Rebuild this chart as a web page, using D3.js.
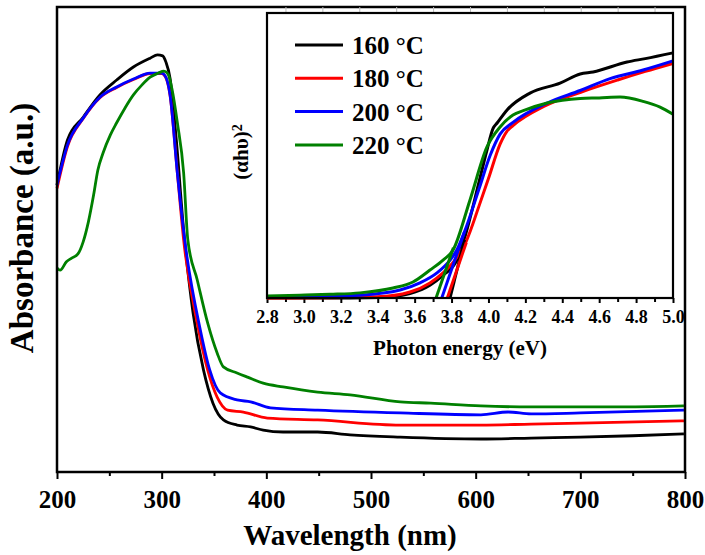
<!DOCTYPE html>
<html>
<head>
<meta charset="utf-8">
<script src="https://cdn.jsdelivr.net/npm/d3@7"></script>
<style>
  body { margin: 0; background: #fff; }
  text { font-family: "Liberation Serif", "Times New Roman", serif; font-weight: bold; fill: #000; }
</style>
</head>
<body>
<div id="chart"></div>
<script>
// main spectra: [wavelength nm, absorbance a.u.]
var abs160 = [[200,0.617],[210,0.714],[225,0.763],[241,0.811],[257,0.843],[273,0.871],[289,0.890],[296,0.897],[301,0.895],[304,0.882],[308,0.847],[314,0.714],[321,0.520],[330,0.342],[340,0.219],[349,0.148],[359,0.112],[372,0.101],[385,0.097],[397,0.090],[416,0.086],[449,0.086],[480,0.080],[528,0.075],[605,0.071],[653,0.073],[700,0.075],[750,0.078],[799,0.082]];
var abs180 = [[200,0.610],[210,0.700],[225,0.760],[241,0.805],[257,0.827],[273,0.844],[289,0.857],[300,0.857],[304,0.848],[308,0.810],[315,0.643],[321,0.499],[334,0.320],[344,0.219],[353,0.161],[363,0.133],[378,0.129],[401,0.116],[449,0.112],[528,0.101],[605,0.101],[653,0.103],[700,0.105],[799,0.110]];
var abs200 = [[200,0.617],[210,0.703],[225,0.761],[241,0.806],[257,0.828],[273,0.845],[289,0.858],[300,0.858],[304,0.849],[308,0.811],[315,0.643],[322,0.499],[337,0.305],[346,0.219],[356,0.170],[372,0.155],[385,0.151],[404,0.138],[449,0.133],[528,0.127],[605,0.123],[631,0.129],[653,0.125],[700,0.127],[799,0.133]];
var abs220 = [[200,0.439],[203,0.434],[209,0.452],[214,0.460],[220,0.469],[225,0.495],[230,0.538],[235,0.596],[239,0.649],[244,0.686],[251,0.725],[257,0.751],[265,0.783],[273,0.811],[281,0.832],[289,0.849],[297,0.858],[302,0.862],[306,0.856],[310,0.822],[315,0.751],[321,0.643],[325,0.499],[334,0.413],[344,0.320],[353,0.256],[359,0.226],[372,0.213],[382,0.204],[397,0.191],[416,0.183],[449,0.172],[480,0.166],[528,0.151],[557,0.148],[605,0.142],[653,0.140],[700,0.140],[748,0.140],[799,0.142]];

// inset Tauc plot: [photon energy eV, (ahv)^2]
var tauc160 = [[2.8,0.000],[3.1,0.000],[3.40,0.002],[3.575,0.016],[3.683,0.045],[3.754,0.080],[3.83,0.135],[3.87,0.210],[3.95,0.410],[3.992,0.519],[4.025,0.595],[4.047,0.614],[4.101,0.660],[4.225,0.719],[4.388,0.754],[4.497,0.786],[4.567,0.793],[4.751,0.828],[4.85,0.840],[5.0,0.860]];
var tauc180 = [[2.8,0.000],[3.1,0.001],[3.396,0.004],[3.575,0.021],[3.683,0.053],[3.754,0.088],[3.83,0.144],[3.88,0.200],[3.95,0.325],[4.0,0.419],[4.063,0.540],[4.10,0.585],[4.133,0.605],[4.30,0.672],[4.50,0.722],[4.70,0.765],[4.85,0.795],[5.0,0.823]];
var tauc200 = [[2.8,0.004],[3.1,0.006],[3.304,0.010],[3.521,0.028],[3.629,0.053],[3.721,0.088],[3.792,0.133],[3.83,0.170],[3.87,0.232],[3.95,0.385],[4.009,0.500],[4.063,0.575],[4.133,0.616],[4.318,0.684],[4.497,0.728],[4.659,0.770],[4.838,0.800],[5.0,0.832]];
var tauc220 = [[2.8,0.007],[2.979,0.010],[3.141,0.013],[3.304,0.018],[3.483,0.035],[3.591,0.056],[3.683,0.098],[3.754,0.133],[3.808,0.168],[3.90,0.344],[3.992,0.530],[4.063,0.600],[4.133,0.642],[4.20,0.660],[4.318,0.684],[4.497,0.700],[4.60,0.702],[4.713,0.705],[4.838,0.690],[4.93,0.670],[5.0,0.645]];

// linear extrapolation lines for the band gap
var fit160 = [[3.792,0],[3.87,0.205]];
var fit180 = [[3.777,0],[3.88,0.195]];
var fit200 = [[3.747,0],[3.87,0.232]];
var fit220 = [[3.716,0],[3.81,0.176]];

var labels = ["160 °C", "180 °C", "200 °C", "220 °C"];
var colors = ["#000000", "#ff0000", "#0000ff", "#008000"];
var xTicks = [200, 300, 400, 500, 600, 700, 800];
var insetTicks = [2.8, 3.0, 3.2, 3.4, 3.6, 3.8, 4.0, 4.2, 4.4, 4.6, 4.8, 5.0];

var svgWidth = 705, svgHeight = 555;
var margin = { top: 7, right: 20, bottom: 83, left: 57 };
var width = svgWidth - margin.left - margin.right;
var height = svgHeight - margin.top - margin.bottom;

var svg = d3.select("#chart")
  .append("svg")
  .attr("width", svgWidth)
  .attr("height", svgHeight);

var chartGroup = svg.append("g")
  .attr("transform", `translate(${margin.left}, ${margin.top})`);

var xScale = d3.scaleLinear().domain([200, 800]).range([0, width]);
var yScale = d3.scaleLinear().domain([0, 1]).range([height, 0]);

// minor ticks
chartGroup.append("g")
  .attr("transform", `translate(0, ${height})`)
  .call(d3.axisBottom(xScale).tickValues(d3.range(250, 800, 100)).tickSize(4).tickFormat(""))
  .call(g => g.select(".domain").remove())
  .selectAll("line").attr("stroke-width", 2);

var bottomAxis = chartGroup.append("g")
  .attr("transform", `translate(0, ${height})`)
  .call(d3.axisBottom(xScale).tickValues(xTicks).tickSize(7).tickPadding(11).tickFormat(d3.format("d")));
bottomAxis.select(".domain").remove();
bottomAxis.selectAll("line").attr("stroke-width", 2);
bottomAxis.selectAll("text").attr("font-size", "25px").attr("font-family", null);

var line = d3.line()
  .x(d => xScale(d[0]))
  .y(d => yScale(d[1]))
  .curve(d3.curveMonotoneX);

[abs160, abs180, abs200, abs220].forEach(function(s, i) {
  chartGroup.append("path")
    .datum(s)
    .attr("d", line)
    .attr("fill", "none")
    .attr("stroke", colors[i])
    .attr("stroke-width", 2.8)
    .attr("stroke-linejoin", "round");
});

chartGroup.append("rect")
  .attr("width", width).attr("height", height)
  .attr("fill", "none").attr("stroke", "#000").attr("stroke-width", 2.5);

// axis titles
svg.append("text")
  .attr("transform", "translate(33, 228) rotate(-90)")
  .attr("text-anchor", "middle")
  .attr("font-size", "33px")
  .text("Absorbance (a.u.)");

svg.append("text")
  .attr("x", 350).attr("y", 545)
  .attr("text-anchor", "middle")
  .attr("font-size", "29px")
  .text("Wavelength (nm)");

// ===== inset =====
var inset = { left: 267, top: 13, width: 406, height: 285 };
var insetGroup = svg.append("g")
  .attr("transform", `translate(${inset.left}, ${inset.top})`);

var ixScale = d3.scaleLinear().domain([2.8, 5.0]).range([0, inset.width]);
var iyScale = d3.scaleLinear().domain([0, 1]).range([inset.height, 0]);

insetGroup.append("rect")
  .attr("width", inset.width).attr("height", inset.height)
  .attr("fill", "#fff");

insetGroup.append("g")
  .call(d3.axisTop(ixScale).tickValues(d3.range(2.9, 5.0, 0.2)).tickSize(6).tickFormat(""))
  .call(g => g.select(".domain").remove())
  .selectAll("line").attr("stroke", "#bbb");

insetGroup.append("g")
  .attr("transform", `translate(0, ${inset.height})`)
  .call(d3.axisBottom(ixScale).tickValues(d3.range(2.9, 5.0, 0.2)).tickSize(4).tickFormat(""))
  .call(g => g.select(".domain").remove())
  .selectAll("line").attr("stroke-width", 2);

var insetAxis = insetGroup.append("g")
  .attr("transform", `translate(0, ${inset.height})`)
  .call(d3.axisBottom(ixScale).tickValues(insetTicks).tickSize(5).tickPadding(7).tickFormat(d3.format(".1f")));
insetAxis.select(".domain").remove();
insetAxis.selectAll("line").attr("stroke-width", 2);
insetAxis.selectAll("text").attr("font-size", "18px").attr("font-family", null);

var iline = d3.line()
  .x(d => ixScale(d[0]))
  .y(d => iyScale(d[1]))
  .curve(d3.curveMonotoneX);

[tauc160, tauc180, tauc200, tauc220].forEach(function(s, i) {
  insetGroup.append("path")
    .datum(s)
    .attr("d", iline)
    .attr("fill", "none")
    .attr("stroke", colors[i])
    .attr("stroke-width", 3)
    .attr("stroke-linejoin", "round");
});

[fit160, fit180, fit200, fit220].forEach(function(s, i) {
  insetGroup.append("path")
    .datum(s)
    .attr("d", d3.line().x(d => ixScale(d[0])).y(d => iyScale(d[1])))
    .attr("fill", "none")
    .attr("stroke", colors[i])
    .attr("stroke-width", 3);
});

insetGroup.append("rect")
  .attr("width", inset.width).attr("height", inset.height)
  .attr("fill", "none").attr("stroke", "#000").attr("stroke-width", 2.2);

// legend
labels.forEach(function(lab, i) {
  var yy = 32 + i * 33.3;
  insetGroup.append("line")
    .attr("x1", 28).attr("x2", 76)
    .attr("y1", yy).attr("y2", yy)
    .attr("stroke", colors[i]).attr("stroke-width", 3);
  insetGroup.append("text")
    .attr("x", 85).attr("y", yy + 9)
    .attr("font-size", "25px")
    .text(lab);
});

var ylab = svg.append("text")
  .attr("transform", "translate(248, 152) rotate(-90)")
  .attr("text-anchor", "middle")
  .attr("font-size", "21px");
ylab.append("tspan").text("(αhυ)");
ylab.append("tspan").attr("dy", "-0.45em").attr("font-size", "14px").text("2");

svg.append("text")
  .attr("x", 460).attr("y", 355)
  .attr("text-anchor", "middle")
  .attr("font-size", "21px")
  .text("Photon energy (eV)");
</script>
</body>
</html>
